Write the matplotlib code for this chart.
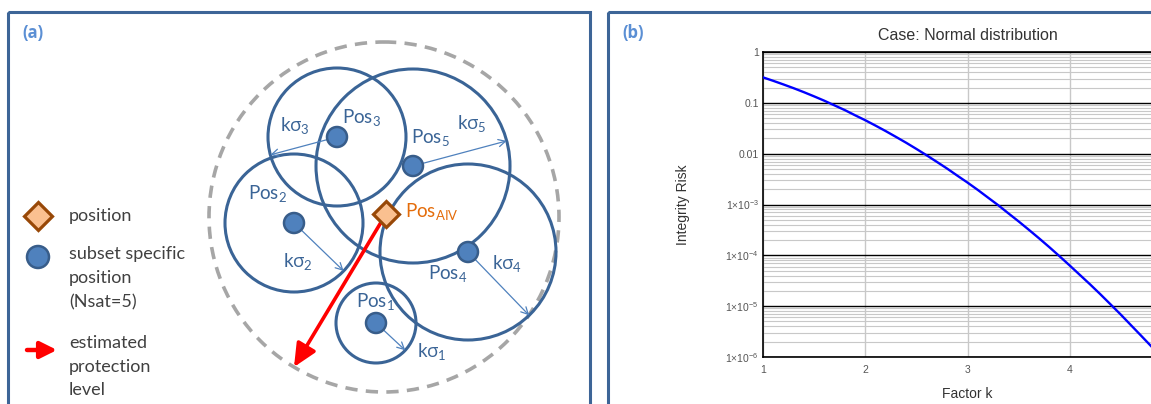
import numpy as np
import matplotlib.pyplot as plt
from matplotlib.patches import Circle, Rectangle, FancyArrowPatch
from matplotlib.ticker import FixedLocator, LogLocator, NullFormatter

plt.rcParams['mathtext.fontset'] = 'custom'
plt.rcParams['mathtext.rm'] = 'Open Sans'
plt.rcParams['mathtext.it'] = 'Open Sans'

# ---- (a) subset positions (diagram units, y pointing down) ----
subset_ids = ["1", "2", "3", "4", "5"]
subset_x = [376, 294, 337, 468, 413]
subset_y = [323, 223, 137, 252, 166]
subset_r = [40, 69, 69, 88, 97]
ksigma_angle = [43, 44, 165, 46, -15]   # direction of the k*sigma arrow, degrees
aiv_x, aiv_y = 386, 214
pl_tip_x, pl_tip_y = 294, 367
envelope_x, envelope_y, envelope_r = 384, 217, 175

# ---- (b) integrity risk vs. factor k ----
k_factor = [1.0, 1.1, 1.2, 1.3, 1.4, 1.5, 1.6, 1.7, 1.8, 1.9,
            2.0, 2.1, 2.2, 2.3, 2.4, 2.5, 2.6, 2.7, 2.8, 2.9,
            3.0, 3.1, 3.2, 3.3, 3.4, 3.5, 3.6, 3.7, 3.8, 3.9,
            4.0, 4.1, 4.2, 4.3, 4.4, 4.5, 4.6, 4.7, 4.8, 4.9]
integrity_risk = [0.317, 0.271, 0.230, 0.194, 0.162, 0.134, 0.110, 0.089, 0.072, 0.057,
                  0.0455, 0.0357, 0.0278, 0.0214, 0.0164, 0.0124, 0.0093, 0.0069, 0.0051, 0.0037,
                  2.7e-3, 1.94e-3, 1.37e-3, 9.7e-4, 6.7e-4, 4.65e-4, 3.18e-4, 2.16e-4, 1.45e-4, 9.6e-5,
                  6.3e-5, 4.1e-5, 2.67e-5, 1.71e-5, 1.08e-5, 6.8e-6, 4.2e-6, 2.6e-6, 1.6e-6, 9.6e-7]
y_tick_values = [1, 0.1, 0.01, 1e-3, 1e-4, 1e-5, 1e-6]
y_tick_labels = ["1", "0.1", "0.01",
                 r"1$\times$10$^{\mathdefault{-3}}$", r"1$\times$10$^{\mathdefault{-4}}$",
                 r"1$\times$10$^{\mathdefault{-5}}$", r"1$\times$10$^{\mathdefault{-6}}$"]
x_tick_values = [1, 2, 3, 4]

W, H = 1151, 404
fig = plt.figure(figsize=(W / 100, H / 100), dpi=100)

# canvas layer for the frames and the schematic
ax0 = fig.add_axes([0, 0, 1, 1])
ax0.set_xlim(0, W)
ax0.set_ylim(H, 0)
ax0.axis('off')

frame_col = '#3d6597'
ring_col = '#3a6496'
text_col = '#404040'
ax0.add_patch(Rectangle((8, 12), 582, 420, fill=False, ec=frame_col, lw=2.2))
ax0.add_patch(Rectangle((608, 12), 600, 420, fill=False, ec=frame_col, lw=2.2))
ax0.text(22, 33, "(a)", color='#5b8fd4', fontsize=12, fontweight='bold',
         family='Open Sans', va='center', ha='left')
ax0.text(622, 33, "(b)", color='#5b8fd4', fontsize=12, fontweight='bold',
         family='Open Sans', va='center', ha='left')

# outer envelope
ax0.add_patch(Circle((envelope_x, envelope_y), envelope_r, fill=False,
                     ec='#a6a6a6', lw=2.6, ls=(0, (3.4, 2.3))))

for i, sid in enumerate(subset_ids):
    cx, cy, r = subset_x[i], subset_y[i], subset_r[i]
    ax0.add_patch(Circle((cx, cy), r, fill=False, ec=ring_col, lw=2.2, zorder=2))
    a = np.deg2rad(ksigma_angle[i])
    ax0.add_patch(FancyArrowPatch((cx, cy), (cx + r * np.cos(a), cy + r * np.sin(a)),
                                  arrowstyle='->,head_length=5,head_width=2.6',
                                  color='#4f81bd', lw=0.9, shrinkA=0, shrinkB=0, zorder=3))
    ax0.add_patch(Circle((cx, cy), 10, fc='#4f81bd', ec='#385d8a', lw=1.8, zorder=4))

# labels next to each subset circle
pos_label_xy = [(375, 302), (268, 193), (362, 117), (448, 273), (430, 137)]
ksig_label_xy = [(432, 352), (298, 262), (295, 125), (507, 263), (472, 124)]
for i, sid in enumerate(subset_ids):
    ax0.text(*pos_label_xy[i], "Pos$_{\\mathdefault{%s}}$" % sid, color=ring_col,
             fontsize=13.5, family='Lato', ha='center', va='center', zorder=5)
    ax0.text(*ksig_label_xy[i], "k$\\sigma_{\\mathdefault{%s}}$" % sid, color=ring_col,
             fontsize=13.5, family='Lato', ha='center', va='center', zorder=5)

# protection level arrow and the position itself
ax0.add_patch(FancyArrowPatch((aiv_x, aiv_y), (pl_tip_x, pl_tip_y),
                              arrowstyle='-|>,head_length=14,head_width=6.5',
                              color='#ff0000', lw=2.6, shrinkA=0, shrinkB=0, zorder=6))
ax0.plot(aiv_x, aiv_y, marker='D', ms=13, mfc='#fac090', mec='#984807', mew=2.3, zorder=7)
ax0.text(405, 212, r"Pos$_{\mathdefault{AIV}}$", color='#e46c0a', fontsize=13.5,
         family='Lato', ha='left', va='center', zorder=7)

# legend
ax0.plot(38, 216, marker='D', ms=14, mfc='#fac090', mec='#984807', mew=2.3)
ax0.add_patch(Circle((38, 257), 11, fc='#4f81bd', ec='#385d8a', lw=1.8))
ax0.add_patch(FancyArrowPatch((27, 350), (57, 350),
                              arrowstyle='-|>,head_length=10,head_width=5',
                              color='#ff0000', lw=3.2, shrinkA=0, shrinkB=0))
leg_font = dict(color=text_col, fontsize=13, family='Lato', ha='left', va='center')
ax0.text(69, 216, "position", **leg_font)
ax0.text(69, 254, "subset specific", **leg_font)
ax0.text(69, 278, "position", **leg_font)
ax0.text(69, 302, "(Nsat=5)", **leg_font)
ax0.text(69, 343, "estimated", **leg_font)
ax0.text(69, 367, "protection", **leg_font)
ax0.text(69, 390, "level", **leg_font)

# ---- (b) plot ----
x0, x1 = 763, 1172
y_top, y_bot = 52, 357
ax = fig.add_axes([x0 / W, (H - y_bot) / H, (x1 - x0) / W, (y_bot - y_top) / H])
ax.set_yscale('log')
ax.set_xlim(1, 5)
ax.set_ylim(1e-6, 1)

ax.yaxis.set_major_locator(FixedLocator(y_tick_values))
ax.set_yticklabels(y_tick_labels)
ax.yaxis.set_minor_locator(LogLocator(base=10, subs=range(2, 10)))
ax.yaxis.set_minor_formatter(NullFormatter())
ax.set_xticks(x_tick_values)
ax.set_xticklabels([str(v) for v in x_tick_values])

ax.grid(True, which='minor', axis='y', color='#c8c8c8', lw=0.8)
ax.grid(True, which='major', axis='y', color='#000000', lw=1.0)
ax.grid(True, which='major', axis='x', color='#c8c8c8', lw=1.0)
ax.set_axisbelow(True)

ax.plot(k_factor, integrity_risk, color='#0000ff', lw=1.7, zorder=3)

for s in ax.spines.values():
    s.set_color('#000000')
    s.set_linewidth(1.2)
ax.tick_params(which='both', length=0, labelsize=7.5, colors='#555555', pad=3)
ax.tick_params(axis='x', pad=6)
for lab in ax.get_xticklabels() + ax.get_yticklabels():
    lab.set_family('Liberation Sans')

ax.set_title("Case: Normal distribution", fontsize=11.5, color='#333333',
             family='Liberation Sans', pad=9)
ax.set_ylabel("Integrity Risk", fontsize=10, color='#333333', family='Liberation Sans')
ax.set_xlabel("Factor k", fontsize=10, color='#333333', family='Liberation Sans')
ax.yaxis.set_label_coords((690 - x0) / (x1 - x0), 0.5)
ax.xaxis.set_label_coords((967 - x0) / (x1 - x0), (y_bot - 387) / (y_bot - y_top))

fig.savefig("out.png", dpi=100)
plt.close(fig)
